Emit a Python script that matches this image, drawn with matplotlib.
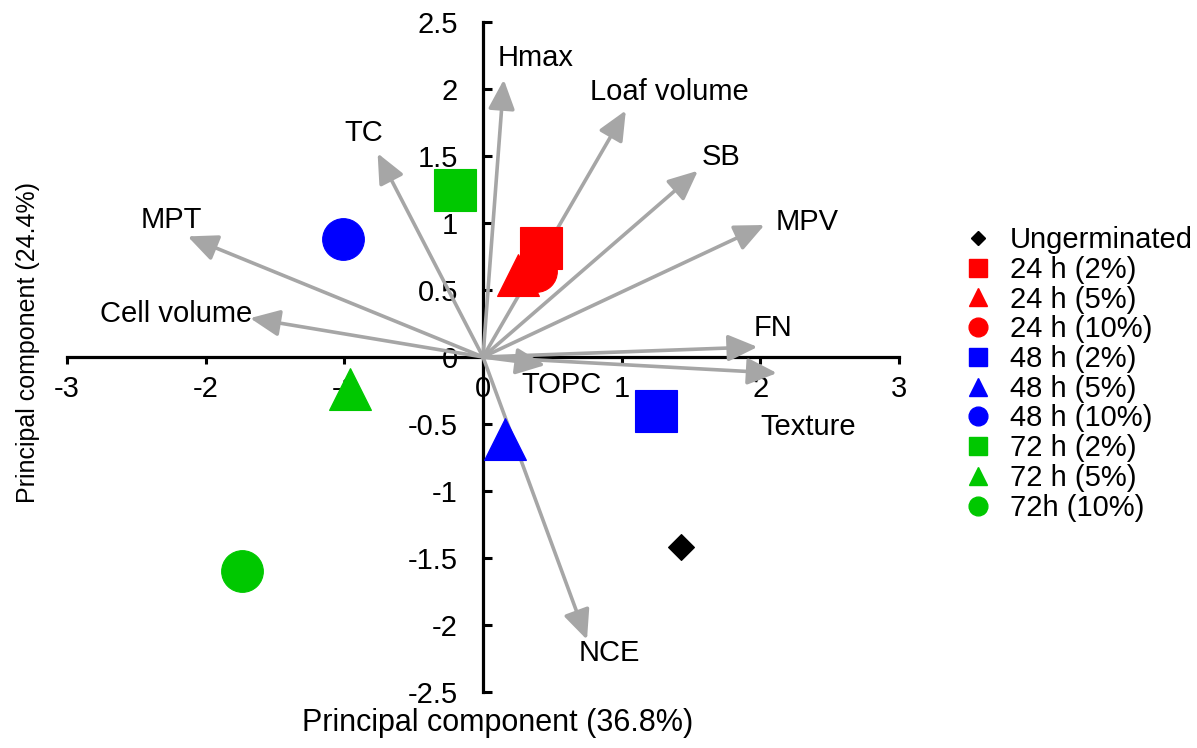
import matplotlib
matplotlib.use("Agg")
import matplotlib.pyplot as plt
from matplotlib.lines import Line2D

plt.rcParams["font.family"] = ["Liberation Sans", "DejaVu Sans"]
plt.rcParams["axes.unicode_minus"] = False

# sample scores
groups = ["Ungerminated", "24 h (2%)", "24 h (5%)", "24 h (10%)",
          "48 h (2%)", "48 h (5%)", "48 h (10%)",
          "72 h (2%)", "72 h (5%)", "72h (10%)"]
score_x = [1.43, 0.415, 0.25, 0.385, 1.25, 0.16, -1.01, -0.20, -0.96, -1.74]
score_y = [-1.42, 0.81, 0.615, 0.64, -0.40, -0.61, 0.88, 1.25, -0.24, -1.60]
colors = ["#000000", "#FF0000", "#FF0000", "#FF0000",
          "#0000FF", "#0000FF", "#0000FF",
          "#00C800", "#00C800", "#00C800"]
shapes = ["D", "s", "^", "o", "s", "^", "o", "s", "^", "o"]

# variable loadings
variables = ["Hmax", "Loaf volume", "SB", "MPV", "FN", "Texture",
             "TOPC", "NCE", "Cell volume", "MPT", "TC"]
load_x = [0.15, 1.03, 1.55, 2.03, 1.98, 2.12, 0.45, 0.75, -1.68, -2.13, -0.76]
load_y = [2.07, 1.84, 1.39, 0.985, 0.075, -0.12, -0.06, -2.11, 0.29, 0.90, 1.52]

# label placement (data coords, alignment)
label_pos = {
    "Hmax": (0.108, 2.23, "left"),
    "Loaf volume": (0.77, 1.98, "left"),
    "SB": (1.58, 1.49, "left"),
    "MPV": (2.11, 1.01, "left"),
    "FN": (1.95, 0.22, "left"),
    "Texture": (2.0, -0.52, "left"),
    "TOPC": (0.28, -0.21, "left"),
    "NCE": (0.69, -2.21, "left"),
    "Cell volume": (-1.666, 0.32, "right"),
    "MPT": (-2.246, 1.02, "center"),
    "TC": (-0.858, 1.67, "center"),
}

FS = 21
arrow_color = "#A6A6A6"

fig = plt.figure(figsize=(11.97, 7.48), dpi=100)
ax = fig.add_axes([67 / 1197, 1 - 692 / 748, 832 / 1197, 670 / 748])
ax.set_xlim(-3, 3)
ax.set_ylim(-2.5, 2.5)

for name, lx, ly in zip(variables, load_x, load_y):
    ax.annotate("", xy=(lx, ly), xytext=(0, 0),
                arrowprops=dict(arrowstyle="-|>,head_length=1.0,head_width=0.45",
                                color=arrow_color, lw=2.6, shrinkA=0, shrinkB=0,
                                mutation_scale=18),
                annotation_clip=False, zorder=2)
    tx, ty, ha = label_pos[name]
    ax.text(tx, ty, name, fontsize=FS, ha=ha, va="center", zorder=4)

for g, x, y, c, m in zip(groups, score_x, score_y, colors, shapes):
    ms = 13.7 if m == "D" else 30
    ax.plot([x], [y], linestyle="none", marker=m, markersize=ms,
            color=c, markeredgecolor=c, markeredgewidth=0.8,
            clip_on=False, zorder=3)

for side in ["top", "right"]:
    ax.spines[side].set_visible(False)
ax.spines["left"].set_position(("data", 0))
ax.spines["bottom"].set_position(("data", 0))
ax.spines["left"].set_linewidth(2.3)
ax.spines["bottom"].set_linewidth(2.3)
ax.spines["left"].set_zorder(1)
ax.spines["bottom"].set_zorder(1)

ax.set_xticks([-3, -2, -1, 0, 1, 2, 3])
ax.set_xticklabels(["-3", "-2", "-1", "0", "1", "2", "3"])
ax.set_yticks([-2.5, -2, -1.5, -1, -0.5, 0, 0.5, 1, 1.5, 2, 2.5])
ax.set_yticklabels(["-2.5", "-2", "-1.5", "-1", "-0.5", "0",
                    "0.5", "1", "1.5", "2", "2.5"])
ax.tick_params(axis="x", direction="out", length=5, width=2.2, labelsize=FS, pad=8)
ax.tick_params(axis="y", direction="in", length=6.5, width=2.2, labelsize=FS, pad=18)

ax.text(0.517, -0.047, "Principal component (36.8%)", transform=ax.transAxes,
        fontsize=22, ha="center", va="center")
ax.text(-0.047, 0.521, "Principal component (24.4%)", transform=ax.transAxes,
        fontsize=18, ha="center", va="center", rotation=90)

handles = []
for g, c, m in zip(groups, colors, shapes):
    ms = 7.5 if m == "D" else 13.5
    handles.append(Line2D([], [], linestyle="none", marker=m, markersize=ms,
                          color=c, markeredgecolor=c))
fig.legend(handles=handles, labels=groups, loc="upper left",
           bbox_to_anchor=(963 / 1197, 1 - 226 / 748), frameon=False,
           fontsize=FS, borderpad=0, borderaxespad=0, handlelength=1.0,
           handletextpad=0.6, labelspacing=0.06)

fig.savefig("out.png", dpi=100)
